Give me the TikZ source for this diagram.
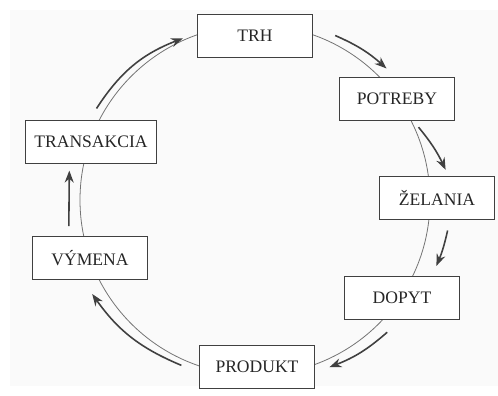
\documentclass[tikz,border=0pt]{standalone}
\usepackage{fontspec}
\setmainfont{Liberation Serif}
\usepackage{xcolor}
\usepackage{tikz}
\usetikzlibrary{arrows.meta}

\begin{document}
\begin{tikzpicture}[
    stagebox/.style={rectangle, draw=black!75, line width=0.6pt, fill=white, minimum width=2.3cm, minimum height=0.86cm, inner xsep=5pt, font=\normalsize, text=black!85},
    ring/.style={draw=black!55, line width=0.45pt},
    flow/.style={-{Stealth[length=2.4mm, width=1.8mm]}, line width=0.9pt, draw=black!75}
]

% page and scan background
\useasboundingbox (-5.10,-3.92) rectangle (4.86,4.00);
\fill[black!2] (-4.90,-3.72) rectangle (4.86,3.80);

% the cycle behind the boxes
\coordinate (mid) at (0,0);
\draw[ring] (mid) circle[radius=3.5];

% stages of the cycle
\node[stagebox] (trh) at (0,3.28) {TRH};
\node[stagebox] (potreby) at (2.84,2.02) {POTREBY};
\node[stagebox] (zelania) at (3.64,0.04) {ŽELANIA};
\node[stagebox] (dopyt) at (2.94,-1.96) {DOPYT};
\node[stagebox] (produkt) at (0.04,-3.34) {PRODUKT};
\node[stagebox] (vymena) at (-3.30,-1.16) {VÝMENA};
\node[stagebox] (transakcia) at (-3.28,1.16) {TRANSAKCIA};

% ends of the outer arrows
\coordinate (a1) at (64:3.66);  \coordinate (b1) at (45:3.72);
\coordinate (a2) at (24:3.58);  \coordinate (b2) at (9:3.86);
\coordinate (a3) at (-9:3.9);   \coordinate (b3) at (-20:3.86);
\coordinate (a4) at (-45:3.74); \coordinate (b4) at (-66:3.66);
\coordinate (a5) at (246:3.62); \coordinate (b5) at (210:3.76);
\coordinate (a6) at (188:3.76); \coordinate (b6) at (171:3.76);
\coordinate (a7) at (150:3.66); \coordinate (b7) at (114:3.54);

% direction of the cycle
\draw[flow] (a1) to[bend left=9] (b1);
\draw[flow] (a2) to[bend left=7] (b2);
\draw[flow] (a3) to[bend left=5] (b3);
\draw[flow] (a4) to[bend left=10] (b4);
\draw[flow] (a5) to[bend left=16] (b5);
\draw[flow] (a6) -- (b6);
\draw[flow] (a7) to[bend left=18] (b7);

\end{tikzpicture}
\end{document}
